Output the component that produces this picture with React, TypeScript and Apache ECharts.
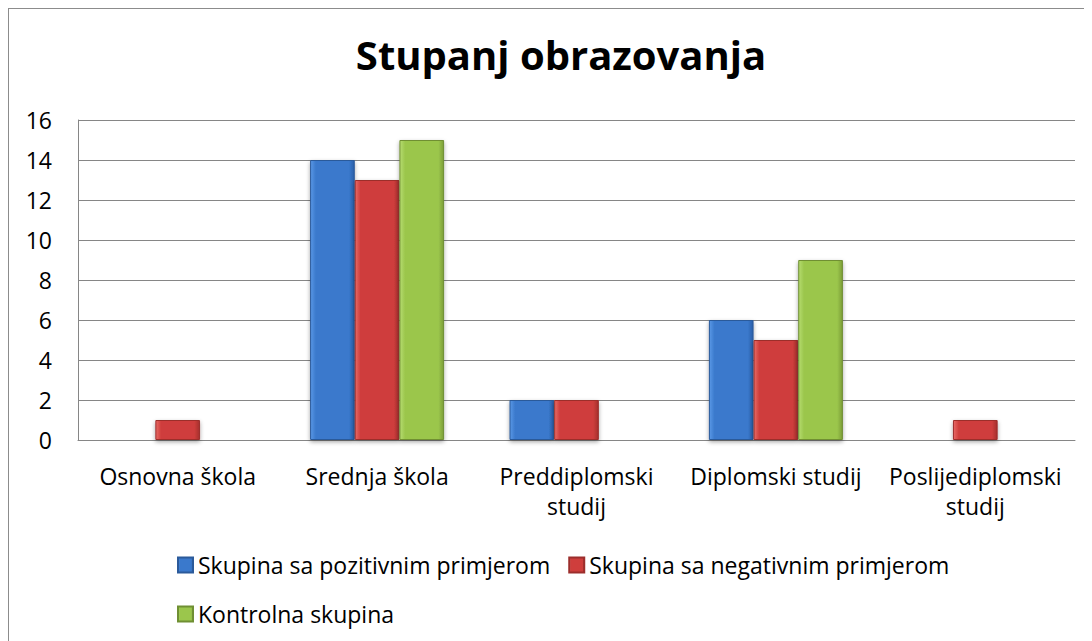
import React, { useEffect, useRef } from "react";
import * as echarts from "echarts";

const categories = [
  "Osnovna škola",
  "Srednja škola",
  "Preddiplomski\nstudij",
  "Diplomski studij",
  "Poslijediplomski\nstudij",
];
const seriesNames = [
  "Skupina sa pozitivnim primjerom",
  "Skupina sa negativnim primjerom",
  "Kontrolna skupina",
];
const positiveValues = [0, 14, 2, 6, 0];
const negativeValues = [1, 13, 2, 5, 1];
const controlValues = [0, 15, 0, 9, 0];
const yTicks = { min: 0, max: 16, interval: 2 };
const titleText = "Stupanj obrazovanja";

const FONT = "'Open Sans', 'Noto Sans', sans-serif";

function grad(light: string, mid: string, dark: string) {
  return new echarts.graphic.LinearGradient(0, 0, 1, 0, [
    { offset: 0, color: light },
    { offset: 0.12, color: mid },
    { offset: 0.88, color: mid },
    { offset: 1, color: dark },
  ]);
}

export default function App() {
  const ref = useRef<HTMLDivElement>(null);
  useEffect(() => {
    if (!ref.current) return;
    const chart = echarts.init(ref.current, undefined, { renderer: "svg" });
    const styles = [
      { c: grad("#5a98e6", "#3a79cc", "#2a5ea8"), b: "#2b5a9a" },
      { c: grad("#e86a66", "#cf3e3c", "#a52f2d"), b: "#9c2e2c" },
      { c: grad("#b6dc70", "#9bc64c", "#7c9e38"), b: "#6f8f33" },
    ];
    const values = [positiveValues, negativeValues, controlValues];
    chart.setOption({
      animation: false,
      title: {
        text: titleText,
        left: 547,
        textAlign: "center",
        top: 20,
        textStyle: { fontFamily: FONT, fontSize: 40, fontWeight: "bold", color: "#000" },
      },
      legend: [
        {
          data: [seriesNames[0], seriesNames[1]],
          left: 163,
          top: 539,
          itemWidth: 15,
          itemHeight: 15,
          itemGap: 18,
          icon: "rect",
          textStyle: { fontFamily: FONT, fontSize: 23, color: "#000", lineHeight: 24 },
        },
        {
          data: [seriesNames[2]],
          left: 163,
          top: 588,
          itemWidth: 15,
          itemHeight: 15,
          icon: "rect",
          textStyle: { fontFamily: FONT, fontSize: 23, color: "#000", lineHeight: 24 },
        },
      ],
      grid: { left: 69, top: 111, width: 997, height: 320, containLabel: false },
      xAxis: {
        type: "category",
        data: categories,
        axisLine: { show: true, lineStyle: { color: "#868686", width: 1 } },
        axisTick: { show: false },
        axisLabel: {
          fontFamily: FONT,
          fontSize: 23,
          color: "#000",
          lineHeight: 30,
          margin: 21,
          interval: 0,
        },
      },
      yAxis: {
        type: "value",
        min: yTicks.min,
        max: yTicks.max,
        interval: yTicks.interval,
        axisLine: { show: true, lineStyle: { color: "#868686", width: 1 } },
        axisTick: { show: false },
        splitLine: { show: true, lineStyle: { color: "#868686", width: 1 } },
        axisLabel: { fontFamily: FONT, fontSize: 23, color: "#000", margin: 26 },
      },
      series: seriesNames.map((name, i) => ({
        name,
        type: "bar",
        data: values[i],
        barGap: "0%",
        barCategoryGap: "32.8%",
        itemStyle: {
          color: styles[i].c,
          borderColor: styles[i].b,
          borderWidth: 1,
          shadowColor: "rgba(0,0,0,0.35)",
          shadowBlur: 4,
          shadowOffsetY: 2,
        },
      })),
    });
    return () => chart.dispose();
  }, []);
  return (
    <div
      ref={ref}
      style={{
        width: 1083,
        height: 632,
        borderLeft: "1px solid #8c8c8c",
        borderTop: "1px solid #8c8c8c",
      }}
    />
  );
}
